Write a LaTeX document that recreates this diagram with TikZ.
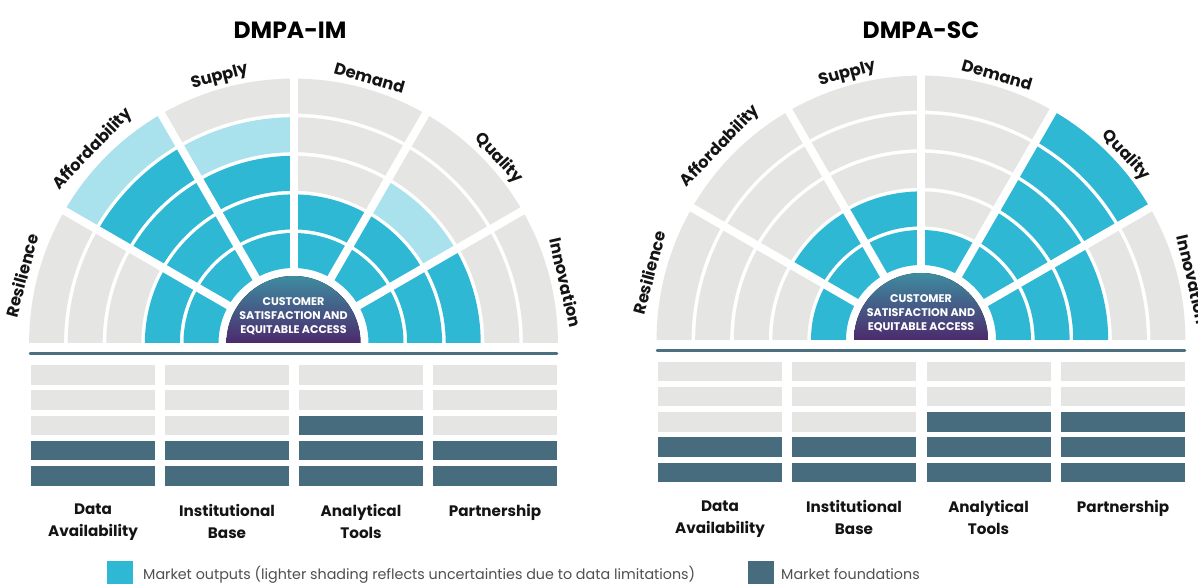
\documentclass[tikz,border=0pt]{standalone}
\usepackage{fontspec}
\setmainfont{Poppins}
\definecolor{cellG}{RGB}{229,229,227}
\definecolor{cellC}{RGB}{47,184,212}
\definecolor{cellL}{RGB}{169,225,236}
\definecolor{cellD}{RGB}{71,108,125}
\definecolor{ruleC}{RGB}{76,112,128}
\definecolor{hubTop}{RGB}{62,140,160}
\definecolor{hubBot}{RGB}{76,42,108}
\definecolor{legendText}{RGB}{80,80,80}
% half wheel: #1 centre, #2 one colour list (inner ring first) per sector, left to right
\newcommand\drawwheel[2]{%
  \begin{scope}[shift={#1}]
    \foreach \cols [count=\s from 0] in {#2} {
      \foreach \c [count=\k from 0] in \cols {
        \pgfmathsetmacro\ri{75+38.6*\k}
        \pgfmathsetmacro\ro{\ri+35}
        \pgfmathsetmacro\ta{180-30*\s}
        \pgfmathsetmacro\tb{150-30*\s}
        \fill[cell\c] (\ta:\ri) arc[start angle=\ta, end angle=\tb, radius=\ri]
          -- (\tb:\ro) arc[start angle=\tb, end angle=\ta, radius=\ro] -- cycle;
      }
    }
    \foreach \a in {30,60,...,150}
      \draw[white, line width=8pt] (0,0) -- (\a:272);
    \fill[top color=hubTop, bottom color=hubBot]
      (67,0) arc[start angle=0, end angle=180, radius=67] -- cycle;
  \end{scope}
}
% foundation bars: #1 left x, #2 top y (image rows), #3 colour list top to bottom
\newcommand\drawbars[3]{%
  \foreach \c [count=\k from 0] in {#3} {
    \pgfmathsetmacro\yt{584-(#2+25.25*\k)}
    \fill[cell\c] (#1,\yt) rectangle ++(124,-19.5);
  }
}
\begin{document}
\begin{tikzpicture}[x=1pt,y=1pt,
  title/.style={font=\bfseries\fontsize{23.5}{28}\selectfont, text=black},
  pillar/.style={font=\bfseries\fontsize{16.3}{19}\selectfont, text=black!92, inner sep=0pt},
  basetext/.style={font=\bfseries\fontsize{15.2}{22}\selectfont, text=black!92, align=center, anchor=north, inner sep=0pt},
  hubtext/.style={font=\bfseries\fontsize{11.1}{14}\selectfont, text=white, align=center, inner sep=0pt},
  legendtext/.style={font=\fontsize{14.3}{16}\selectfont, text=legendText, anchor=base west, inner sep=0pt},
  rulestyle/.style={ruleC, line width=2.5pt, line cap=round}]
\useasboundingbox (0,0) rectangle (1198,584);
\fill[white] (0,0) rectangle (1198,584);

% ---------- DMPA-IM ----------
\node[title] (t1) at (290,554) {DMPA-IM};
\drawwheel{(293.5,241)}{{C,C,G,G,G},{C,C,C,C,L},{C,C,C,L,G},{C,C,G,G,G},{C,C,L,G,G},{C,C,C,G,G}}
\node[hubtext] (h1) at (293.5,268) {CUSTOMER\\SATISFACTION AND\\EQUITABLE ACCESS};
\begin{scope}[shift={(293.5,241)}]
  \node[pillar, rotate=75]  (p1a) at (166:280) {Resilience};
  \node[pillar, rotate=46]  (p1b) at (136:279) {Affordability};
  \node[pillar, rotate=15]  (p1c) at (105.5:276) {Supply};
  \node[pillar, rotate=-16] (p1d) at (74:276) {Demand};
  \node[pillar, rotate=-47] (p1e) at (42:276) {Quality};
  \node[pillar, rotate=-77] (p1f) at (12.5:279) {Innovation};
\end{scope}
\draw[rulestyle] (30,230.5) -- (557,230.5);
\drawbars{31}{365}{G,G,G,D,D}
\drawbars{165}{365}{G,G,G,D,D}
\drawbars{299}{365}{G,G,D,D,D}
\drawbars{433}{365}{G,G,G,D,D}
\node[basetext] (b1a) at (93,80) {Data\\Availability};
\node[basetext] (b1b) at (227,80) {Institutional\\Base};
\node[basetext] (b1c) at (361,80) {Analytical\\Tools};
\node[basetext] (b1d) at (495,80) {Partnership};

% ---------- DMPA-SC ----------
\node[title] (t2) at (921,554) {DMPA-SC};
\drawwheel{(921,244)}{{C,G,G,G,G},{C,C,G,G,G},{C,C,G,G,G},{C,G,G,G,G},{C,C,C,C,C},{C,C,C,G,G}}
\node[hubtext] (h2) at (921,271) {CUSTOMER\\SATISFACTION AND\\EQUITABLE ACCESS};
\begin{scope}[shift={(921,244)}]
  \node[pillar, rotate=75]  (p2a) at (166:280) {Resilience};
  \node[pillar, rotate=46]  (p2b) at (136:279) {Affordability};
  \node[pillar, rotate=15]  (p2c) at (105.5:276) {Supply};
  \node[pillar, rotate=-16] (p2d) at (74:276) {Demand};
  \node[pillar, rotate=-47] (p2e) at (42:276) {Quality};
  \node[pillar, rotate=-77] (p2f) at (12.5:279) {Innovation};
\end{scope}
\draw[rulestyle] (657,233.3) -- (1185,233.3);
\drawbars{658}{361.7}{G,G,G,D,D}
\drawbars{792}{361.7}{G,G,G,D,D}
\drawbars{927}{361.7}{G,G,D,D,D}
\drawbars{1061}{361.7}{G,G,D,D,D}
\node[basetext] (b2a) at (720,83.5) {Data\\Availability};
\node[basetext] (b2b) at (854,83.5) {Institutional\\Base};
\node[basetext] (b2c) at (988.5,83.5) {Analytical\\Tools};
\node[basetext] (b2d) at (1123,83.5) {Partnership};

% ---------- legend ----------
\fill[cellC] (107,0) rectangle (133,23) coordinate (k1);
\node[legendtext] (l1) at (143,5) {Market outputs (lighter shading reflects uncertainties due to data limitations)};
\fill[cellD] (748,0) rectangle (774,23) coordinate (k2);
\node[legendtext] (l2) at (781,5) {Market foundations};
\end{tikzpicture}
\end{document}
